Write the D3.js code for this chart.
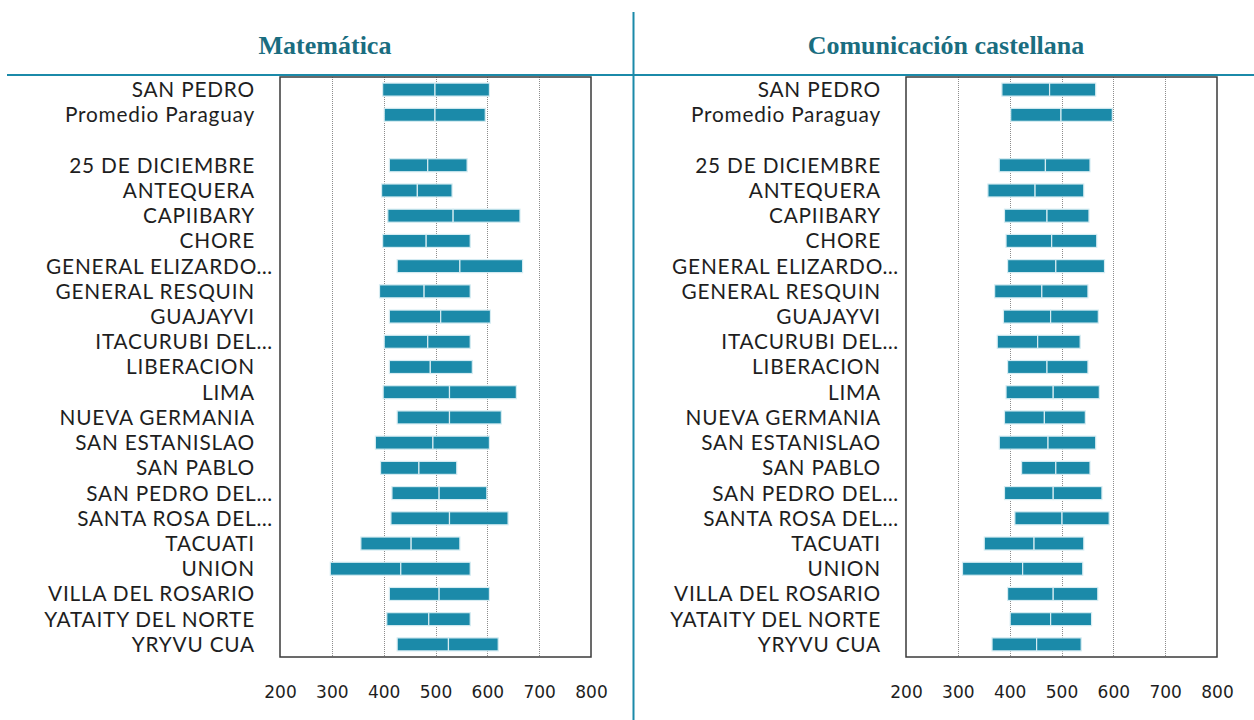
<!DOCTYPE html>
<html>
<head>
<meta charset="utf-8">
<script src="https://cdn.jsdelivr.net/npm/d3@7"></script>
<style>
  html, body { margin: 0; padding: 0; background: #fff; }
  svg { display: block; }
</style>
</head>
<body>
<svg id="chart" width="1254" height="720"></svg>
<script>
// Row labels, top to bottom ("" is the spacer row)
const categories = [
  "SAN PEDRO", "Promedio Paraguay", "",
  "25 DE DICIEMBRE", "ANTEQUERA", "CAPIIBARY", "CHORE", "GENERAL ELIZARDO…",
  "GENERAL RESQUIN", "GUAJAYVI", "ITACURUBI DEL…", "LIBERACION", "LIMA",
  "NUEVA GERMANIA", "SAN ESTANISLAO", "SAN PABLO", "SAN PEDRO DEL…",
  "SANTA ROSA DEL…", "TACUATI", "UNION", "VILLA DEL ROSARIO",
  "YATAITY DEL NORTE", "YRYVU CUA"
];

// Matemática: lower end, middle, upper end of each range
const matLow  = [398, 401, null, 411, 396, 408, 398, 426, 392, 411, 401, 411, 399, 426, 384, 394, 416, 414, 356, 297, 411, 406, 426];
const matMid  = [499, 499, null, 485, 465, 534, 482, 547, 478, 510, 485, 490, 527, 527, 495, 468, 507, 527, 453, 433, 507, 487, 525];
const matHigh = [604, 596, null, 561, 532, 663, 567, 668, 567, 606, 567, 571, 656, 627, 604, 541, 599, 640, 547, 567, 604, 567, 621];

// Comunicación castellana: lower end, middle, upper end
const comLow  = [385, 402, null, 380, 358, 390, 393, 396, 371, 388, 376, 396, 393, 390, 380, 423, 390, 410, 351, 309, 396, 401, 366];
const comMid  = [477, 499, null, 469, 449, 472, 481, 489, 462, 479, 454, 472, 484, 467, 474, 489, 484, 501, 447, 425, 484, 479, 452];
const comHigh = [566, 598, null, 555, 543, 553, 568, 583, 551, 571, 536, 551, 573, 546, 566, 555, 578, 592, 543, 541, 570, 558, 538];

const xTicks = [200, 300, 400, 500, 600, 700, 800];
const gridTicks = [300, 400, 500, 600, 700];

const TEAL = "#1b8aa9";
const TITLE = "#1a6d80";

const svg = d3.select("#chart");

// Header rules
svg.append("line").attr("x1", 7).attr("x2", 1254).attr("y1", 75).attr("y2", 75)
  .attr("stroke", TEAL).attr("stroke-width", 2);
svg.append("line").attr("x1", 633.5).attr("x2", 633.5).attr("y1", 12).attr("y2", 720)
  .attr("stroke", TEAL).attr("stroke-width", 2);

const panels = [
  { title: "Matemática", titleX: 325, left: 280, right: 591, labelX: 255,
    low: matLow, mid: matMid, high: matHigh },
  { title: "Comunicación castellana", titleX: 946, left: 906, right: 1217, labelX: 881,
    low: comLow, mid: comMid, high: comHigh }
];

const plotTop = 77, plotBottom = 657;
const y = d3.scaleBand().domain(d3.range(categories.length)).range([plotTop, plotBottom]).padding(0);
const barH = 13;

panels.forEach(p => {
  const x = d3.scaleLinear().domain([200, 800]).range([p.left, p.right]);
  const g = svg.append("g");

  g.append("text")
    .attr("x", p.titleX).attr("y", 54)
    .attr("text-anchor", "middle")
    .attr("font-family", "Liberation Serif, serif")
    .attr("font-weight", "bold")
    .attr("font-size", 26)
    .attr("fill", TITLE)
    .text(p.title);

  // dotted vertical gridlines
  g.selectAll("line.grid").data(gridTicks).join("line")
    .attr("class", "grid")
    .attr("x1", d => Math.round(x(d)) + 0.5).attr("x2", d => Math.round(x(d)) + 0.5)
    .attr("y1", plotTop).attr("y2", plotBottom)
    .attr("stroke", "#8c8c8c").attr("stroke-width", 1)
    .attr("stroke-dasharray", "1,1");

  // range bars: lower end to middle, middle to upper end
  const rows = categories.map((c, i) => ({ i, lo: p.low[i], md: p.mid[i], hi: p.high[i] }))
    .filter(r => r.lo != null);

  g.selectAll("rect.seg1").data(rows).join("rect")
    .attr("class", "seg1")
    .attr("x", d => x(d.lo)).attr("width", d => x(d.md) - x(d.lo))
    .attr("y", d => y(d.i) + y.bandwidth() / 2 - barH / 2).attr("height", barH)
    .attr("fill", TEAL).attr("stroke", "#d6ecf2").attr("stroke-width", 1.2);
  g.selectAll("rect.seg2").data(rows).join("rect")
    .attr("class", "seg2")
    .attr("x", d => x(d.md)).attr("width", d => x(d.hi) - x(d.md))
    .attr("y", d => y(d.i) + y.bandwidth() / 2 - barH / 2).attr("height", barH)
    .attr("fill", TEAL).attr("stroke", "#d6ecf2").attr("stroke-width", 1.2);

  // plot frame
  g.append("rect")
    .attr("x", p.left).attr("y", plotTop)
    .attr("width", p.right - p.left).attr("height", plotBottom - plotTop)
    .attr("fill", "none").attr("stroke", "#3a3a3a").attr("stroke-width", 1.5);

  // category labels
  g.selectAll("text.cat").data(categories).join("text")
    .attr("class", "cat")
    .attr("x", d => d.endsWith("…") ? p.labelX + 18 : p.labelX)
    .attr("y", (d, i) => y(i) + y.bandwidth() / 2)
    .attr("dy", "0.36em")
    .attr("text-anchor", "end")
    .attr("font-family", "Lato, sans-serif")
    .attr("font-size", 20.8)
    .attr("letter-spacing", 0.8)
    .attr("fill", "#1e1e1e")
    .text(d => d);

  // value axis labels
  const axis = d3.axisBottom(x).tickValues(xTicks).tickSize(0).tickPadding(0);
  const ag = g.append("g").attr("transform", `translate(0, 686)`).call(axis);
  ag.select(".domain").remove();
  ag.selectAll("text")
    .attr("font-family", "DejaVu Sans, sans-serif")
    .attr("font-size", 17)
    .attr("fill", "#1e1e1e");
});
</script>
</body>
</html>
